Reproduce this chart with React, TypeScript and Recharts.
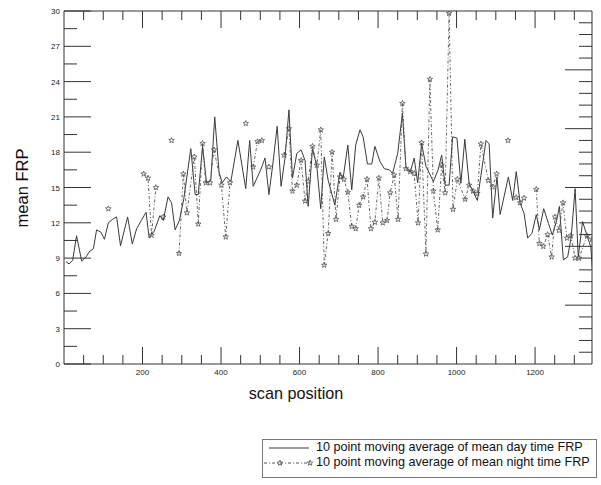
import React from "react";
import { LineChart, Line, XAxis, YAxis, Label } from "recharts";

// day time series: scan position / mean FRP (10 point moving average)
const dayPos = [
  5, 13, 22, 32, 45, 56, 66, 75, 83, 94, 103, 113, 124, 134, 144, 162, 174, 185, 197, 209,
  217, 230, 244, 253, 265, 274, 283, 294, 305, 323, 334, 342, 353, 363, 374, 384, 395, 403,
  414, 425, 443, 463, 473, 482, 501, 512, 522, 532, 543, 553, 563, 573, 582, 593, 604, 614,
  622, 633, 644, 654, 663, 673, 690, 703, 711, 723, 733, 743, 754, 762, 773, 784, 792, 805,
  816, 829, 837, 850, 862, 871, 882, 892, 901, 911, 922, 941, 953, 962, 971, 981, 990, 1001,
  1011, 1021, 1032, 1053, 1062, 1075, 1083, 1092, 1103, 1111, 1132, 1143, 1152, 1162, 1172,
  1181, 1192, 1203, 1211, 1222, 1234, 1244, 1255, 1262, 1272, 1283, 1292, 1302, 1310, 1321,
  1332, 1342, 1347,
];
const dayFrp = [
  8.7, 8.5, 8.8, 10.9, 8.75, 9.1, 9.6, 9.8, 11.4, 11.2, 10.6, 12.0, 12.3, 12.5, 10.05, 12.5,
  10.2, 11.5, 12.2, 12.9, 10.7, 11.3, 12.6, 12.2, 14.2, 13.7, 11.4, 12.2, 14.0, 18.3, 14.4,
  14.4, 18.5, 15.4, 15.6, 21.0, 16.3, 15.4, 15.9, 15.5, 19.0, 14.9, 19.0, 15.1, 16.5, 17.5,
  14.4, 17.0, 20.2, 15.1, 17.5, 21.6, 15.8, 17.9, 18.2, 17.3, 13.4, 18.3, 16.8, 13.2, 17.6,
  15.6, 13.5, 16.3, 15.8, 18.6, 14.8, 18.6, 19.9, 19.3, 17.0, 17.0, 18.5, 17.2, 16.6, 16.5,
  16.2, 17.9, 21.3, 16.8, 16.3, 17.5, 15.4, 18.75, 16.8, 15.5, 16.5, 17.75, 15.2, 15.2, 19.3,
  19.2, 15.35, 19.1, 15.35, 13.9, 16.0, 19.0, 18.7, 12.4, 15.9, 12.7, 15.9, 13.9, 16.35,
  13.65, 12.8, 10.7, 11.1, 12.7, 11.4, 13.2, 11.95, 10.95, 12.2, 13.4, 8.85, 9.1, 10.8, 14.9,
  9.1, 12.1, 10.95, 9.95, 7.6,
];

// night time series, broken where values are missing
const nightPos = [
  113, 203, 214, 223, 234, 253, 274, 293, 304, 313, 332, 342, 353, 361, 372, 382, 401, 412,
  423, 463, 482, 493, 504, 522, 561, 573, 582, 593, 604, 614, 622, 633, 644, 654, 663, 673,
  683, 693, 703, 713, 723, 733, 743, 752, 762, 772, 782, 792, 802, 812, 823, 831, 841, 851,
  862, 871, 882, 892, 902, 911, 922, 932, 941, 952, 962, 971, 981, 991, 1002, 1022, 1032,
  1042, 1053, 1062, 1081, 1092, 1102, 1131, 1152, 1162, 1172, 1203, 1211, 1221, 1232, 1242,
  1251, 1261, 1271, 1281, 1291, 1302, 1312, 1332, 1345,
];
const nightFrp = [
  13.2, 16.15, 15.8, 10.95, 15.0, 12.5, 19.0, 9.4, 16.15, 12.85, 17.6, 11.9, 18.75, 15.4,
  15.4, 18.2, 15.2, 10.8, 15.4, 20.45, 16.75, 18.9, 19.0, 16.75, 17.75, 20.0, 14.7, 15.2,
  17.3, 13.85, 15.5, 18.5, 16.9, 19.9, 8.4, 11.1, 18.0, 12.3, 15.9, 15.7, 14.6, 11.7, 11.5,
  13.5, 14.2, 15.7, 11.5, 12.05, 15.8, 12.0, 12.2, 14.55, 16.05, 12.3, 22.15, 16.6, 16.35,
  16.2, 12.0, 18.8, 9.35, 24.2, 14.7, 11.4, 16.9, 14.55, 29.8, 13.15, 15.7, 14.0, 15.2, 14.7,
  14.5, 18.7, 15.6, 15.05, 16.15, 19.0, 14.15, 13.7, 14.1, 14.85, 10.25, 10.0, 11.0, 9.1,
  12.5, 11.35, 13.7, 10.7, 10.9, 9.0, 9.0, 10.9, 10.6,
];
// index in nightPos where each connected run starts
const nightRunStarts = [0, 1, 5, 6, 7, 19, 20, 23, 24, 77, 78, 81];

const xTicks = [
  50, 100, 150, 200, 250, 300, 350, 400, 450, 500, 550, 600, 650, 700, 750, 800, 850, 900,
  950, 1000, 1050, 1100, 1150, 1200, 1250, 1300,
];
const leftTicks = [
  0, 1.5, 3, 4.5, 6, 7.5, 9, 10.5, 12, 13.5, 15, 16.5, 18, 19.5, 21, 22.5, 24, 25.5, 27, 28.5,
  30,
];
const rightTicks = [
  1, 2, 3, 4, 5, 6, 7, 8, 9, 10, 11, 12, 13, 14, 15, 16, 17, 18, 19, 20, 21, 22, 23, 24, 25,
  26, 27, 28, 29,
];

const AXIS = "#333";
const DAY = "#3a3a3a";
const NIGHT = "#555";
const FONT = "'Liberation Sans', Arial, Helvetica, sans-serif";

const dayData = dayPos.map((p, i) => ({ pos: p, frp: dayFrp[i] }));
const nightRuns = nightRunStarts.map((s, k) => {
  const e = k + 1 < nightRunStarts.length ? nightRunStarts[k + 1] : nightPos.length;
  return nightPos.slice(s, e).map((p, i) => ({ pos: p, frp: nightFrp[s + i] }));
});

const StarDot = (props: any) => {
  const { cx, cy } = props;
  if (cx == null || cy == null) return null;
  const pts: string[] = [];
  for (let i = 0; i < 10; i++) {
    const r = i % 2 === 0 ? 2.9 : 1.2;
    const a = -Math.PI / 2 + (i * Math.PI) / 5;
    pts.push(`${cx + r * Math.cos(a)},${cy + r * Math.sin(a)}`);
  }
  return <polygon points={pts.join(" ")} fill="none" stroke={NIGHT} strokeWidth={0.8} />;
};

const BottomTick = (props: any) => {
  const { x, y, payload } = props;
  const v = payload.value;
  const major = v % 200 === 0;
  return (
    <g>
      <line x1={x} y1={y} x2={x} y2={y - (major ? 17 : 9)} stroke={AXIS} />
      {major && (
        <text x={x} y={y + 11} textAnchor="middle" fontSize={8} fontFamily={FONT} fill="#222">
          {v}
        </text>
      )}
    </g>
  );
};

const TopTick = (props: any) => {
  const { x, y, payload } = props;
  const major = payload.value % 200 === 0;
  return <line x1={x} y1={y} x2={x} y2={y + (major ? 17 : 9)} stroke={AXIS} />;
};

const LeftTick = (props: any) => {
  const { x, y, payload } = props;
  const v = payload.value;
  const major = v % 3 === 0;
  return (
    <g>
      <line x1={x} y1={y} x2={x + (major ? 27 : 13)} y2={y} stroke={AXIS} />
      {major && (
        <text x={x - 4} y={y + 3} textAnchor="end" fontSize={8} fontFamily={FONT} fill="#222">
          {v}
        </text>
      )}
    </g>
  );
};

const RightTick = (props: any) => {
  const { x, y, payload } = props;
  const major = payload.value % 5 === 0;
  return <line x1={x} y1={y} x2={x - (major ? 27 : 13)} y2={y} stroke={AXIS} />;
};

const LegendBox = () => (
  <div
    style={{
      position: "absolute",
      left: 262,
      top: 439,
      width: 335,
      height: 39,
      border: "1px solid #777",
      boxSizing: "border-box",
      fontFamily: FONT,
      fontSize: 12.6,
      color: "#111",
    }}
  >
    <svg width={60} height={36} style={{ position: "absolute", left: 0, top: 0 }}>
      <line x1={6} y1={8} x2={46} y2={8} stroke={DAY} />
      <line x1={1} y1={23} x2={49} y2={23} stroke={NIGHT} strokeDasharray="3 2 1 2" />
      <StarDot cx={17} cy={23} />
      <StarDot cx={47} cy={23} />
    </svg>
    <div style={{ position: "absolute", left: 53, top: 0, lineHeight: "15px", whiteSpace: "nowrap" }}>
      10 point moving average of mean day time FRP
    </div>
    <div style={{ position: "absolute", left: 53, top: 15, lineHeight: "15px", whiteSpace: "nowrap" }}>
      10 point moving average of mean night time FRP
    </div>
  </div>
);

export default function App() {
  return (
    <div style={{ position: "absolute", left: 0, top: 0, width: 601, height: 485, background: "#fff" }}>
      <LineChart width={601} height={485} margin={{ top: 10, right: 8, bottom: 120, left: 63 }}>
        <XAxis
          xAxisId="b"
          dataKey="pos"
          type="number"
          domain={[0, 1345]}
          allowDataOverflow
          ticks={xTicks}
          interval={0}
          height={1}
          tickSize={0}
          tickMargin={0}
          tick={<BottomTick />}
          stroke={AXIS}
        >
          <Label
            content={() => (
              <text x={296} y={393} textAnchor="middle" dominantBaseline="central" fontSize={16.2} fontFamily={FONT} fill="#111">
                scan position
              </text>
            )}
          />
        </XAxis>
        <XAxis
          xAxisId="t"
          orientation="top"
          dataKey="pos"
          type="number"
          domain={[0, 1345]}
          allowDataOverflow
          ticks={xTicks}
          interval={0}
          height={1}
          tickSize={0}
          tickMargin={0}
          tick={<TopTick />}
          stroke={AXIS}
        />
        <YAxis
          yAxisId="l"
          type="number"
          domain={[0, 30]}
          allowDataOverflow
          ticks={leftTicks}
          interval={0}
          width={1}
          tickSize={0}
          tickMargin={0}
          tick={<LeftTick />}
          stroke={AXIS}
        >
          <Label
            content={() => (
              <text
                transform="translate(22,188) rotate(-90)"
                textAnchor="middle"
                dominantBaseline="central"
                fontSize={16.5}
                fontFamily={FONT}
                fill="#111"
              >
                mean FRP
              </text>
            )}
          />
        </YAxis>
        <YAxis
          yAxisId="r"
          orientation="right"
          type="number"
          domain={[0, 30]}
          allowDataOverflow
          ticks={rightTicks}
          interval={0}
          width={1}
          tickSize={0}
          tickMargin={0}
          tick={<RightTick />}
          stroke={AXIS}
        />
        <Line
          data={dayData}
          dataKey="frp"
          xAxisId="b"
          yAxisId="l"
          stroke={DAY}
          strokeWidth={1}
          dot={false}
          isAnimationActive={false}
        />
        {nightRuns.map((run, i) => (
          <Line
            key={`night-${i}`}
            data={run}
            dataKey="frp"
            xAxisId="t"
            yAxisId="r"
            stroke={NIGHT}
            strokeWidth={0.9}
            strokeDasharray="3 2 1 2"
            dot={<StarDot />}
            isAnimationActive={false}
          />
        ))}
      </LineChart>
      <LegendBox />
    </div>
  );
}
